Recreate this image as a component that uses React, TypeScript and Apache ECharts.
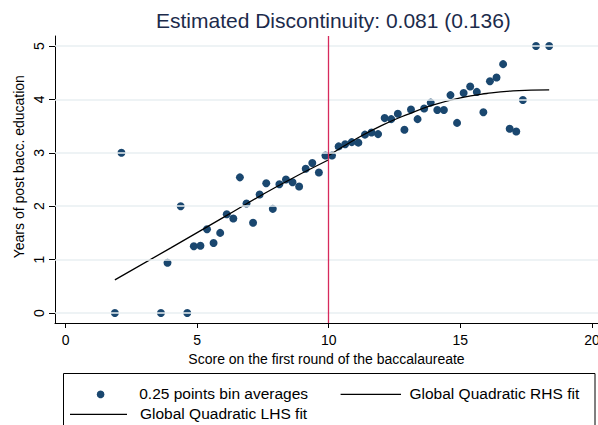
import React, { useEffect, useRef } from "react";
import * as echarts from "echarts";

// Bin midpoints (0.25-point bins) and mean years of post-bacc education
const binScores = [
  1.875, 2.125, 3.625, 3.875, 4.375, 4.625, 4.875, 5.125, 5.375, 5.625, 5.875,
  6.125, 6.375, 6.625, 6.875, 7.125, 7.375, 7.625, 7.875, 8.125, 8.375, 8.625,
  8.875, 9.125, 9.375, 9.625, 9.875, 10.125, 10.375, 10.625, 10.875, 11.125,
  11.375, 11.625, 11.875, 12.125, 12.375, 12.625, 12.875, 13.125, 13.375,
  13.625, 13.875, 14.125, 14.375, 14.625, 14.875, 15.125, 15.375, 15.625,
  15.875, 16.125, 16.375, 16.625, 16.875, 17.125, 17.375, 17.875, 18.375,
];
const binMeans = [
  0, 3.0, 0, 0.94, 2.0, 0, 1.25, 1.26, 1.57, 1.31, 1.5, 1.85, 1.77, 2.54, 2.05,
  1.69, 2.22, 2.43, 1.95, 2.41, 2.5, 2.45, 2.37, 2.7, 2.81, 2.63, 2.95, 2.95,
  3.12, 3.16, 3.2, 3.19, 3.34, 3.38, 3.35, 3.65, 3.63, 3.73, 3.43, 3.81, 3.63,
  3.83, 3.94, 3.8, 3.8, 4.08, 3.56, 4.12, 4.24, 4.14, 3.76, 4.34, 4.41, 4.66,
  3.45, 3.4, 3.99, 5.0, 5.0,
];

// Fitted quadratic curves, left and right of the cutoff
const lhsScores = [1.875, 4, 6, 8, 10];
const lhsFit = [0.62, 1.22, 1.79, 2.36, 2.87];
const rhsScores = [10, 11, 12, 13, 14, 15, 16, 17, 18.375];
const rhsFit = [2.95, 3.25, 3.51, 3.72, 3.9, 4.03, 4.11, 4.16, 4.18];

const cutoff = 10;
const xTicks = [0, 5, 10, 15, 20];
const yTicks = [0, 1, 2, 3, 4, 5];

const titleText = "Estimated Discontinuity: 0.081 (0.136)";
const xTitle = "Score on the first round of the baccalaureate";
const yTitle = "Years of post bacc. education";
const legendBins = "0.25 points bin averages";
const legendRhs = "Global Quadratic RHS fit";
const legendLhs = "Global Quadratic LHS fit";

const FONT = 'Arial, "Liberation Sans", Helvetica, sans-serif';
const NAVY = "#1a476f";
const GRID = "#e9eff2";
const CUT = "#d72a5c";
const LEGEND_FS = 15.5;

export default function App() {
  const ref = useRef<HTMLDivElement>(null);

  useEffect(() => {
    if (!ref.current) return;
    const chart = echarts.init(ref.current, undefined, { renderer: "svg" });

    const zip = (xs: number[], ys: number[]) => xs.map((x, i) => [x, ys[i]]);

    const legendText = (text: string, x: number, y: number) => ({
      type: "text",
      x,
      y,
      style: {
        text,
        fontFamily: FONT,
        fontSize: LEGEND_FS,
        fill: "#000",
        verticalAlign: "middle",
      },
    });

    chart.setOption({
      animation: false,
      backgroundColor: "#ffffff",
      textStyle: { fontFamily: FONT },
      title: {
        text: titleText,
        left: 151,
        top: 5,
        textStyle: {
          fontFamily: FONT,
          fontSize: 21,
          fontWeight: "normal",
          color: "#1c2b4b",
        },
      },
      grid: {
        left: 55,
        right: 0,
        top: 36,
        bottom: 102,
        containLabel: false,
        outerBoundsMode: "none",
      },
      xAxis: {
        type: "value",
        min: -0.4,
        max: 20.23,
        name: xTitle,
        nameLocation: "middle",
        nameGap: 28,
        nameTextStyle: { fontFamily: FONT, fontSize: 14, color: "#000" },
        axisLine: { onZero: false, lineStyle: { color: "#000", width: 1 } },
        axisTick: {
          show: true,
          length: 5,
          customValues: xTicks,
          lineStyle: { color: "#000" },
        },
        axisLabel: {
          customValues: xTicks,
          margin: 10,
          fontFamily: FONT,
          fontSize: 14,
          color: "#000",
        },
        splitLine: { show: false },
      },
      yAxis: {
        type: "value",
        min: -0.187,
        max: 5.187,
        axisLine: { show: true, onZero: false, lineStyle: { color: "#000", width: 1 } },
        axisTick: {
          show: true,
          length: 6,
          customValues: yTicks,
          lineStyle: { color: "#000" },
        },
        axisLabel: {
          customValues: yTicks,
          rotate: 90,
          margin: 9,
          fontFamily: FONT,
          fontSize: 14,
          color: "#000",
        },
        splitLine: { show: false },
      },
      series: [
        {
          name: "grid",
          type: "scatter",
          data: [],
          silent: true,
          z: 0,
          markLine: {
            silent: true,
            symbol: "none",
            label: { show: false },
            lineStyle: { color: GRID, width: 1.5, type: "solid" },
            data: yTicks.map((v) => ({ yAxis: v })),
          },
        },
        {
          name: legendBins,
          type: "scatter",
          data: zip(binScores, binMeans),
          symbol: "circle",
          symbolSize: 8,
          itemStyle: { color: NAVY, opacity: 1 },
          z: 3,
        },
        {
          name: legendLhs,
          type: "line",
          data: zip(lhsScores, lhsFit),
          smooth: true,
          showSymbol: false,
          lineStyle: { color: "#000", width: 1.3 },
          z: 4,
        },
        {
          name: legendRhs,
          type: "line",
          data: zip(rhsScores, rhsFit),
          smooth: true,
          showSymbol: false,
          lineStyle: { color: "#000", width: 1.3 },
          z: 4,
          markLine: {
            silent: true,
            symbol: "none",
            label: { show: false },
            lineStyle: { color: CUT, width: 1.3, type: "solid" },
            data: [{ xAxis: cutoff }],
          },
        },
      ],
      graphic: [
        {
          type: "rect",
          shape: { x: 63.5, y: 373.5, width: 531.5, height: 60 },
          style: { fill: "#fff", stroke: "#000", lineWidth: 1 },
        },
        {
          type: "circle",
          shape: { cx: 100.6, cy: 394.4, r: 3.8 },
          style: { fill: NAVY },
        },
        legendText(legendBins, 139.2, 393),
        {
          type: "line",
          shape: { x1: 340.6, y1: 394.4, x2: 401, y2: 394.4 },
          style: { stroke: "#000", lineWidth: 1.3 },
        },
        legendText(legendRhs, 409.5, 393),
        {
          type: "line",
          shape: { x1: 70, y1: 414.4, x2: 127, y2: 414.4 },
          style: { stroke: "#000", lineWidth: 1.3 },
        },
        legendText(legendLhs, 140, 413),
        {
          type: "text",
          x: 19,
          y: 166.7,
          rotation: Math.PI / 2,
          style: {
            text: yTitle,
            fontFamily: FONT,
            fontSize: 14,
            fill: "#000",
            align: "center",
            verticalAlign: "middle",
          },
        },
      ],
    });

    return () => chart.dispose();
  }, []);

  return (
    <div
      ref={ref}
      style={{ position: "fixed", left: 0, top: 0, width: 598, height: 425 }}
    />
  );
}
